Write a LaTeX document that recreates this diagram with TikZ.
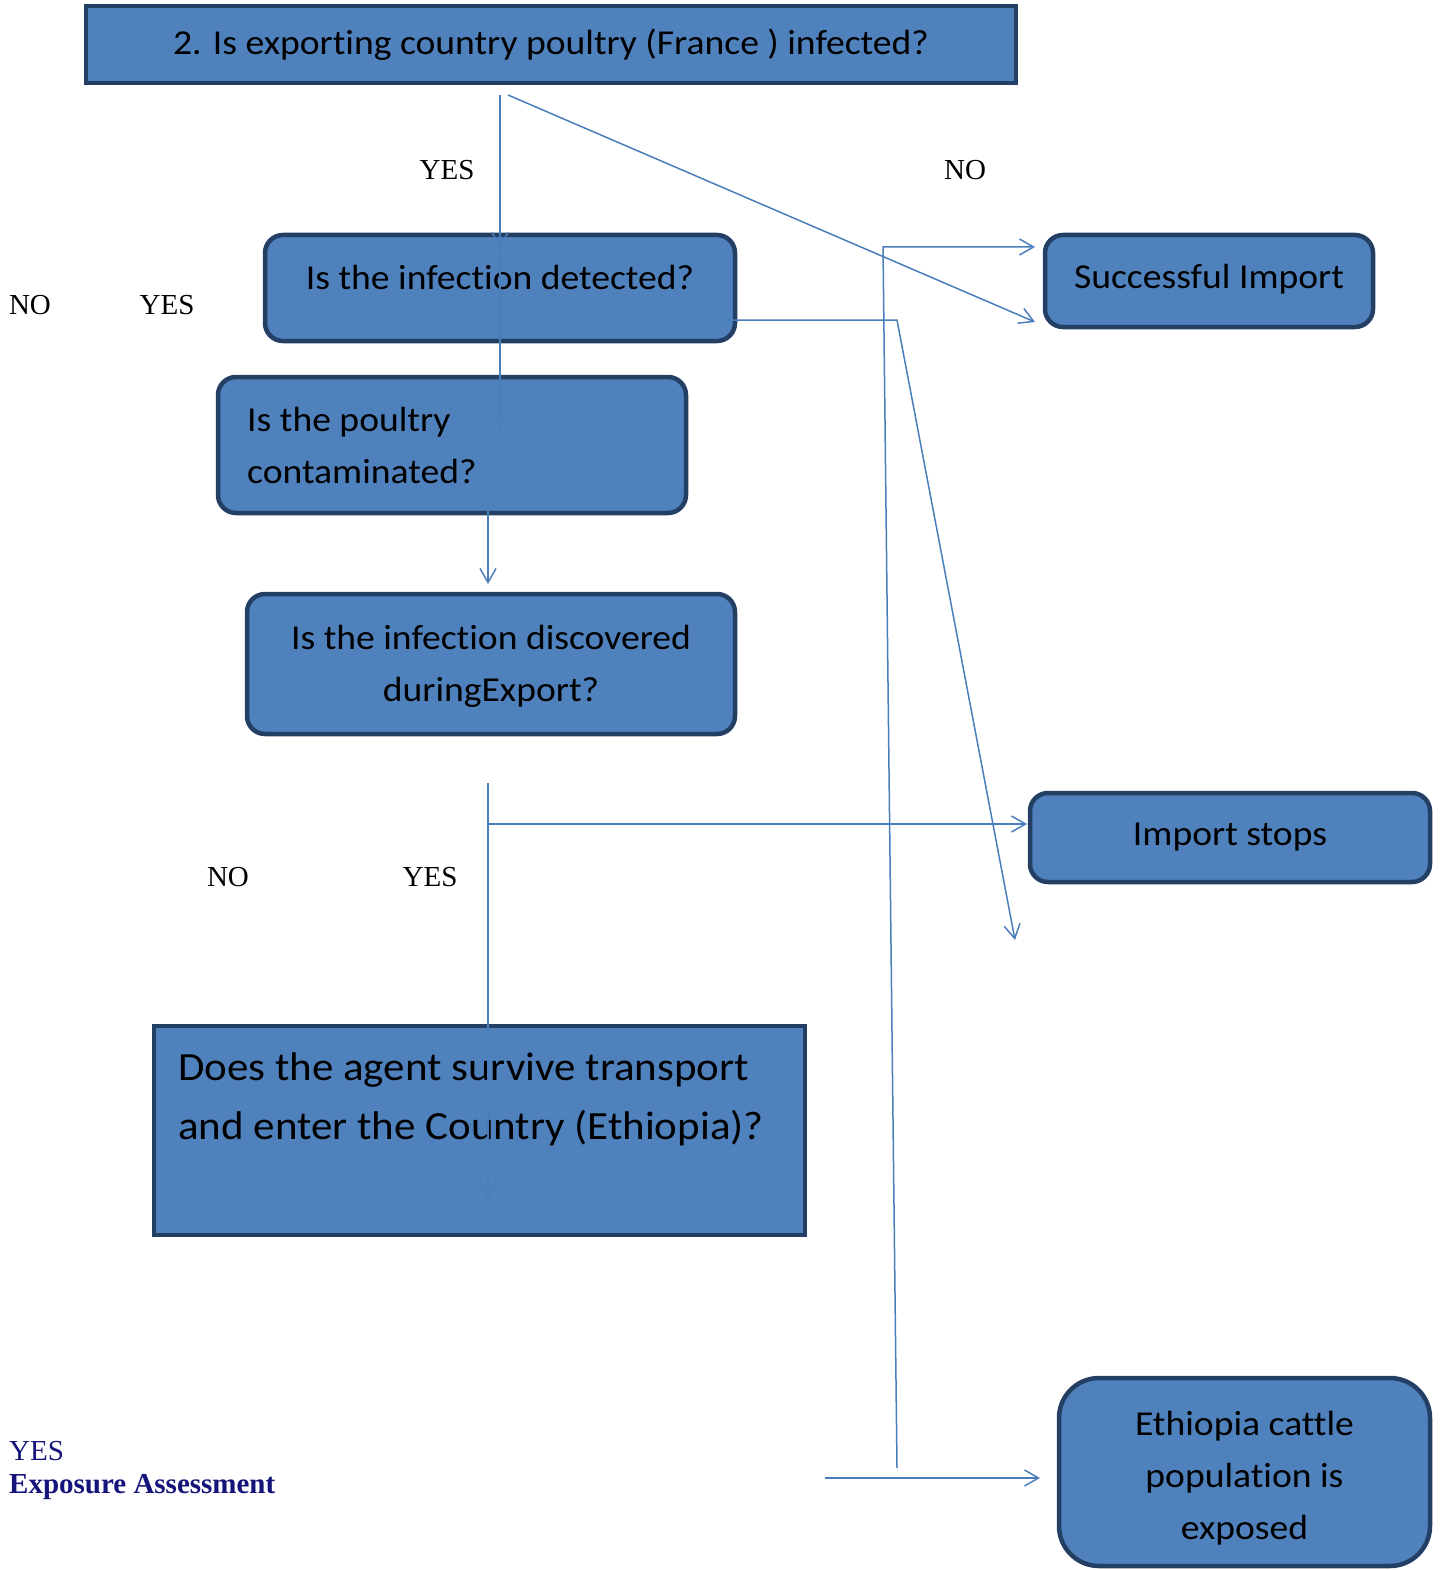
\documentclass[tikz,border=0pt]{standalone}
\usepackage{fontspec}
\setmainfont{Carlito}[FakeStretch=1.075, Ligatures=NoCommon]
\newfontfamily\tnr{Liberation Serif}
\usetikzlibrary{arrows.meta}
\definecolor{boxfill}{HTML}{4F81BD}
\definecolor{boxedge}{HTML}{243F64}
\definecolor{connc}{HTML}{4A7EBB}
\definecolor{navyt}{HTML}{14147A}
\begin{document}
\begin{tikzpicture}[x=1pt,y=-1pt,
  box/.style={draw=boxedge, line width=4.5pt, fill=boxfill, inner sep=0pt},
  rbox/.style={box, rounded corners=18pt},
  qtext/.style={font=\fontsize{35}{52}\selectfont, inner sep=0pt},
  btext/.style={font=\fontsize{40}{59}\selectfont, inner sep=0pt},
  lab/.style={font=\tnr\fontsize{29}{34}\selectfont, inner sep=0pt},
  conn/.style={draw=connc, line width=1.5pt, -{Straight Barb[length=14pt,width=16pt,line width=1.5pt]}},
  plain/.style={draw=connc, line width=1.5pt}
]
\useasboundingbox (0,0) rectangle (1439,1570);

% boxes
\node[box, minimum width=930, minimum height=77] (q1) at (551,44.5) {};
\node[rbox, minimum width=470, minimum height=106] (q2) at (500,288) {};
\node[rbox, minimum width=468, minimum height=136] (q3) at (452,445) {};
\node[rbox, minimum width=488, minimum height=140] (q4) at (491,664) {};
\node[box, minimum width=651, minimum height=209] (q5) at (479.5,1130.5) {};
\node[rbox, minimum width=328, minimum height=92] (r1) at (1209,281) {};
\node[rbox, minimum width=400, minimum height=89] (r2) at (1230,837.5) {};
\node[rbox, rounded corners=40pt, minimum width=371, minimum height=188] (r3) at (1244.5,1472) {};

% box texts
\node[qtext] (t1) at (551,45) {2. Is exporting country poultry (France ) infected?};
\node[qtext] (t2) at (500,277) {Is the infection detected?};
\node[qtext, align=left, anchor=north west] (t3) at (247,407) {Is the poultry\\contaminated?};
\node[qtext, align=center] (t4) at (491,666) {Is the infection discovered\\duringExport?};
\node[btext, align=left, anchor=north west] (t5) at (178,1053) {Does the agent survive transport\\and enter the Country (Ethiopia)?};
\node[qtext] (t6) at (1209,279) {Successful Import};
\node[qtext] (t7) at (1230,837) {Import stops};
\node[qtext, align=center] (t8) at (1244.5,1478) {Ethiopia cattle\\population is\\exposed};

% labels
\node[lab] (l1) at (447,170) {YES};
\node[lab] (l2) at (965,170) {NO};
\node[lab] (l3) at (30,305) {NO};
\node[lab] (l4) at (167,305) {YES};
\node[lab] (l5) at (228,877) {NO};
\node[lab] (l6) at (430,877) {YES};
\node[lab, text=navyt, anchor=west] (l7) at (9,1451) {YES};
\node[lab, text=navyt, anchor=west] (l8) at (9,1487) {\bfseries Exposure Assessment};

% connector end points
\coordinate (a1s) at (500,95);
\coordinate (a1e) at (500,248);
\coordinate (d1s) at (508,95);
\coordinate (d1e) at (1035,322);
\coordinate (a2s) at (500,250);
\coordinate (a2e) at (500,428);
\coordinate (h1s) at (500,320);
\coordinate (h1k) at (897,320);
\coordinate (h1e) at (1015,940);
\coordinate (v1s) at (897,1468);
\coordinate (v1k) at (883,247);
\coordinate (v1e) at (1035,247);
\coordinate (a3s) at (488,440);
\coordinate (a3e) at (488,584);
\coordinate (a4s) at (488,783);
\coordinate (a4e) at (488,1198);
\coordinate (h2s) at (488,824);
\coordinate (h2e) at (1027,824);
\coordinate (h3s) at (825,1478);
\coordinate (h3e) at (1040,1478);

% connectors
\draw[conn] (a1s) -- (a1e);
\draw[conn] (d1s) -- (d1e);
\draw[conn] (a2s) -- (a2e);
\draw[conn] (h1s) -- (h1k) -- (h1e);
\draw[conn] (v1s) -- (v1k) -- (v1e);
\draw[conn] (a3s) -- (a3e);
\draw[conn] (a4s) -- (a4e);
\draw[conn] (h2s) -- (h2e);
\draw[conn] (h3s) -- (h3e);
\end{tikzpicture}
\end{document}
